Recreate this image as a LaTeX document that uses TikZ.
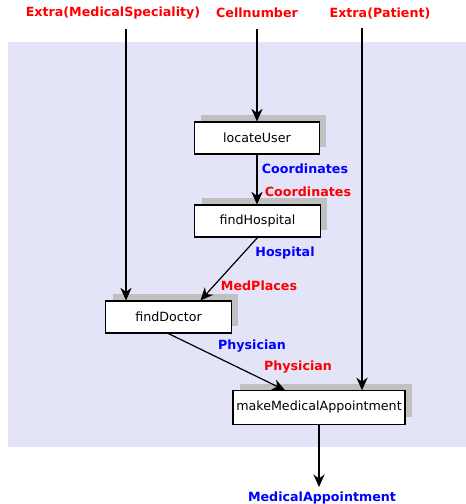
\documentclass[tikz,border=0pt]{standalone}
\usepackage{fontspec}
\setmainfont{DejaVu Sans}
\usetikzlibrary{arrows.meta,shadows}
\definecolor{panel}{RGB}{228,228,248}
\definecolor{shade}{RGB}{192,192,192}
\begin{document}
\begin{tikzpicture}[x=0.75pt,y=-0.75pt,
  task/.style={draw=black,line width=0.9pt,fill=white,minimum height=24pt,
    inner sep=0pt,font=\fontsize{9.5}{11}\selectfont,
    general shadow={fill=shade,shadow xshift=5pt,shadow yshift=5.5pt}},
  flow/.style={line width=0.9pt,-{Stealth[length=9.5pt,width=8.5pt]}},
  inlab/.style={text=red,font=\fontsize{9.5}{11}\selectfont\bfseries,inner sep=0pt},
  outlab/.style={text=blue,font=\fontsize{9.5}{11}\selectfont\bfseries,inner sep=0pt}]
\useasboundingbox (0,0) rectangle (466,504);
% process area
\fill[panel] (8,42) rectangle (466,447);

% tasks
\node[task,minimum width=94pt] (locate) at (257,138) {locateUser};
\node[task,minimum width=94pt] (hosp) at (257.5,221) {findHospital};
\node[task,minimum width=94pt] (doctor) at (168.5,317) {findDoctor};
\node[task,minimum width=129pt,minimum height=25pt] (appt) at (319,407.5) {makeMedicalAppointment};

% external inputs and output
\node[inlab] (spec) at (113,13.5) {Extra(MedicalSpeciality)};
\node[inlab] (cell) at (257,12.5) {Cellnumber};
\node[inlab] (pat) at (380,13.5) {Extra(Patient)};
\coordinate (specin) at (126,29);
\coordinate (cellin) at (257,29);
\coordinate (patin) at (362,28);
\coordinate (apptout) at (319,487);
\node[outlab] (result) at (322,497.5) {MedicalAppointment};

% data flow
\draw[flow] (cellin) -- (cellin |- locate.north);
\draw[flow] (specin) -- (specin |- doctor.north);
\draw[flow] (patin) -- (patin |- appt.north);
\draw[flow] (locate.south) -- (locate.south |- hosp.north);
\draw[flow] (hosp.south) -- ([xshift=24pt]doctor.north);
\draw[flow] (doctor.south) -- ([xshift=-25.5pt]appt.north);
\draw[flow] (appt.south) -- (apptout);

% data labels
\node[outlab] (coordout) at (305,168.5) {Coordinates};
\node[inlab] (coordin) at (308,191.5) {Coordinates};
\node[outlab] (hospout) at (285,253.5) {Hospital};
\node[inlab] (medin) at (259,285.5) {MedPlaces};
\node[outlab] (physout) at (252,346.5) {Physician};
\node[inlab] (physin) at (298,367.5) {Physician};
\end{tikzpicture}
\end{document}
